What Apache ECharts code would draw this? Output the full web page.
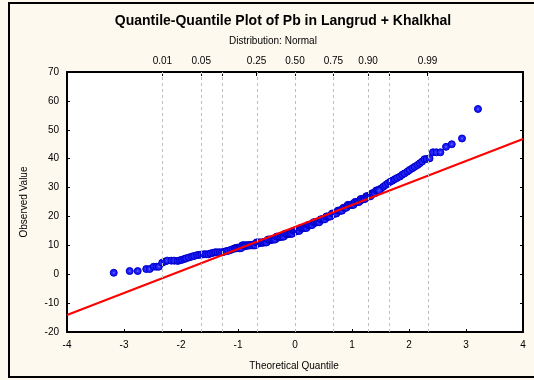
<!DOCTYPE html>
<html>
<head>
<meta charset="utf-8">
<script src="https://cdn.jsdelivr.net/npm/echarts@6/dist/echarts.min.js"></script>
<style>
html,body{margin:0;padding:0;background:#fdf9ee;}
#chart{width:534px;height:380px;}
</style>
</head>
<body>
<div id="chart"></div>
<script>
// ---- data ----
var titleText = 'Quantile-Quantile Plot of Pb in Langrud + Khalkhal';
var subtitleText = 'Distribution: Normal';
var xTitle = 'Theoretical Quantile';
var yTitle = 'Observed Value';

// theoretical quantiles (x) and observed values (y) of the plotted points
var theoretical = [
  -3.18,-2.90,-2.76,-2.61,-2.55,-2.48,-2.43,-2.39,-2.33,-2.28,-2.24,-2.17,-2.12,-2.06,-2.02,-1.98,-1.94,-1.91,-1.86,-1.81,
  -1.77,-1.72,-1.68,-1.64,-1.60,-1.56,-1.52,-1.48,-1.44,-1.40,-1.36,-1.32,-1.28,-1.24,-1.20,-1.17,-1.13,-1.09,-1.05,
  -1.01,-0.97,-0.93,-0.89,-0.85,-0.81,-0.77,-0.73,-0.69,-0.65,-0.61,-0.57,
  -0.53,-0.49,-0.45,-0.41,-0.37,-0.33,-0.29,-0.25,-0.21,-0.17,-0.13,-0.09,-0.05,-0.01,
  0.03,0.07,0.11,0.15,0.19,0.23,0.27,0.31,0.35,0.39,0.43,0.47,0.51,0.55,0.59,
  0.63,0.67,0.71,0.75,0.79,0.83,0.87,0.91,0.95,0.99,1.03,1.07,1.11,1.15,1.19,
  1.23,1.27,1.31,1.35,1.39,1.43,1.47,1.51,1.55,1.59,1.63,1.67,1.71,1.75,1.79,1.84,1.88,1.92,1.97,2.01,
  2.06,2.10,2.15,2.19,2.23,2.27,2.31,2.36,2.42,2.48,2.55,2.65,2.75,2.93,3.21
];
var observed = [
  0.5,1.1,1.1,1.8,1.8,2.6,2.6,2.6,4.0,4.4,4.7,4.7,4.7,4.6,4.8,5.0,5.3,5.5,5.8,6.1,
  6.3,6.6,6.7,6.8,6.9,6.9,6.9,7.2,7.4,7.6,7.6,7.6,7.6,7.8,8.0,8.1,8.4,8.7,9.0,
  9.2,9.3,9.5,9.6,9.8,10.0,10.1,10.3,10.4,10.6,10.8,10.9,
  11.2,11.4,11.7,11.9,12.2,12.5,12.7,13.0,13.3,13.6,13.8,14.1,14.4,14.6,
  15.0,15.3,15.7,16.0,16.4,16.7,17.1,17.4,17.8,18.1,18.5,18.9,19.2,19.6,19.9,
  20.3,20.8,21.2,21.7,22.1,22.5,23.0,23.4,23.8,24.1,24.5,24.8,25.2,25.6,25.9,
  26.4,26.8,27.3,27.7,28.2,28.7,29.2,29.7,30.3,30.9,31.5,32.0,32.4,32.9,33.3,33.8,34.4,34.9,35.5,36.1,
  36.7,37.2,37.8,38.4,39.0,39.8,39.9,40.1,42.2,42.2,42.2,44.1,45.0,47.0,57.2
];

// tied (whole-number) values in the dense middle of the sample
var tiedTheoretical = [
  -1.05,-1.025,-1.0,-0.975,-0.95,
  -0.925,-0.9,-0.875,-0.85,-0.825,-0.8,-0.775,-0.75,-0.725,-0.7,
  -0.675,-0.65,-0.625,-0.6,-0.575,-0.55,-0.525,-0.5,
  -0.475,-0.45,-0.425,-0.4,-0.375,-0.35,
  -0.325,-0.3,-0.275,-0.25,-0.225,-0.2,
  -0.175,-0.15,-0.125,-0.1,-0.075,-0.05,
  -0.025,0,0.025,0.05,0.075,
  0.1,0.125,0.15,0.175,0.2,
  0.225,0.25,0.275,0.3,
  0.325,0.35,0.375,0.4,0.425,
  0.45,0.475,0.5,0.525,
  0.55,0.575,0.6,0.625,
  0.65,0.675,0.7,0.725,
  0.75,0.775,0.8,0.825,
  0.85,0.875,0.9,
  0.925,0.95,0.975,1.0,1.025,
  1.05,1.075,1.1,1.125,
  1.15,1.175,1.2,1.225,
  1.25,1.275,1.3,1.325,
  1.35,1.375,1.4,
  1.425,1.45,1.475
];
var tiedObserved = [
  9,9,9,9,9,
  10,10,10,10,10,10,10,10,10,10,
  11,11,11,11,11,11,11,11,
  12,12,12,12,12,12,
  13,13,13,13,13,13,
  14,14,14,14,14,14,
  15,15,15,15,15,
  16,16,16,16,16,
  17,17,17,17,
  18,18,18,18,18,
  19,19,19,19,
  20,20,20,20,
  21,21,21,21,
  22,22,22,22,
  23,23,23,
  24,24,24,24,24,
  25,25,25,25,
  26,26,26,26,
  27,27,27,27,
  28,28,28,
  29,29,29
];

// reference (fitted normal) line end points
var refLineX = [-4, 4];
var refLineY = [-14.1, 46.8];

// top probability axis
var probGridZ = [-2.326,-1.645,-1.282,-0.674,0,0.674,1.282,1.645,2.326];
var probLabelZ = [-2.326,-1.645,-0.674,0,0.674,1.282,2.326];
var probLabels = ['0.01','0.05','0.25','0.50','0.75','0.90','0.99'];

// axis ranges / ticks
var xMin = -4, xMax = 4, xStep = 1;
var yMin = -20, yMax = 70, yStep = 10;

// ---- chart ----
var points = theoretical.map(function (z, i) { return [z, observed[i]]; })
  .concat(tiedTheoretical.map(function (z, i) { return [z, tiedObserved[i]]; }));
var refLine = refLineX.map(function (x, i) { return [x, refLineY[i]]; });

var chart = echarts.init(document.getElementById('chart'), null, {renderer: 'canvas'});
var font = '"Liberation Sans", Arial, sans-serif';
var axisCommon = {
  axisLine: {show: true, onZero: false, lineStyle: {color: '#000', width: 2}},
  axisTick: {show: true, inside: true, length: 3, lineStyle: {color: '#000', width: 1}},
  splitLine: {show: false}
};

chart.setOption({
  animation: false,
  backgroundColor: '#fdf9ee',
  textStyle: {fontFamily: font},
  grid: {left: 67, right: 11, top: 72, bottom: 48, show: true, backgroundColor: '#ffffff', borderWidth: 0},
  xAxis: [
    Object.assign({}, axisCommon, {
      type: 'value', position: 'bottom', min: xMin, max: xMax, interval: xStep,
      axisLabel: {color: '#000', fontSize: 10, fontFamily: font, margin: 8}
    }),
    Object.assign({}, axisCommon, {
      type: 'value', position: 'top', min: xMin, max: xMax,
      axisTick: {show: true, inside: true, length: 4, customValues: probGridZ, lineStyle: {color: '#000', width: 1}},
      axisLabel: {show: true, color: '#000', fontSize: 10, fontFamily: font, margin: 6,
        customValues: probLabelZ,
        formatter: function (v) {
          for (var i = 0; i < probLabelZ.length; i++) {
            if (Math.abs(probLabelZ[i] - v) < 1e-6) return probLabels[i];
          }
          return '';
        }}
    })
  ],
  yAxis: [
    Object.assign({}, axisCommon, {
      type: 'value', position: 'left', min: yMin, max: yMax, interval: yStep,
      axisLabel: {color: '#000', fontSize: 10, fontFamily: font, margin: 8}
    }),
    Object.assign({}, axisCommon, {
      type: 'value', position: 'right', min: yMin, max: yMax, interval: yStep,
      axisLabel: {show: false}
    })
  ],
  graphic: [
    {type: 'rect', shape: {x: 9, y: 3, width: 620, height: 374}, style: {fill: 'none', stroke: '#000', lineWidth: 2}, silent: true, z: 100},
    {type: 'text', x: 283, y: 21, style: {text: titleText, font: 'bold 14px ' + font, fill: '#000', align: 'center', verticalAlign: 'middle'}},
    {type: 'text', x: 273, y: 41, style: {text: subtitleText, font: '10px ' + font, fill: '#000', align: 'center', verticalAlign: 'middle'}},
    {type: 'text', x: 294, y: 366, style: {text: xTitle, font: '10px ' + font, fill: '#000', align: 'center', verticalAlign: 'middle'}},
    {type: 'text', x: 24, y: 202, rotation: Math.PI / 2, style: {text: yTitle, font: '10px ' + font, fill: '#000', align: 'center', verticalAlign: 'middle'}}
  ],
  series: [
    {
      type: 'line', data: [], z: 1, silent: true,
      markLine: {
        silent: true, symbol: 'none', animation: false,
        label: {show: false},
        lineStyle: {color: '#bdbdbd', type: [3, 3], width: 1},
        data: probGridZ.map(function (z) { return {xAxis: z}; })
      }
    },
    {
      type: 'scatter', data: points, z: 2, symbol: 'circle', symbolSize: 7,
      itemStyle: {
        color: new echarts.graphic.RadialGradient(0.5, 0.5, 0.5, [
          {offset: 0, color: '#7878ff'},
          {offset: 0.35, color: '#2424ff'},
          {offset: 1, color: '#1010f0'}
        ]),
        borderColor: '#0000c8', borderWidth: 1, opacity: 1
      }
    },
    {
      type: 'line', data: refLine, z: 3, symbol: 'none', silent: true,
      lineStyle: {color: '#ff0000', width: 2}
    }
  ]
});
</script>
</body>
</html>
